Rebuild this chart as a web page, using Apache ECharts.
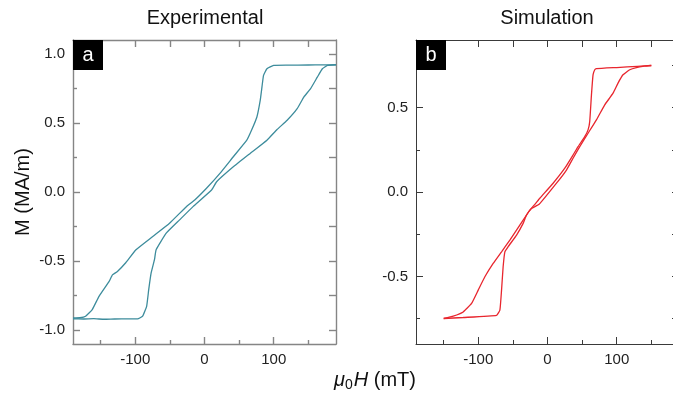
<!DOCTYPE html>
<html>
<head>
<meta charset="utf-8">
<script src="https://cdn.jsdelivr.net/npm/echarts@6/dist/echarts.min.js"></script>
<style>html,body{margin:0;padding:0;background:#fff;}#chart{width:673px;height:397px;}</style>
</head>
<body>
<div id="chart"></div>
<script>
// ---- Data ----
const panelTitles = ['Experimental', 'Simulation'];
const panelTags = ['a', 'b'];
const yAxisTitle = 'M (MA/m)';

const xMajorTicks = [-100, 0, 100];
const xMinorTicks = [-150, -50, 50, 150];
const expYMajorTicks = [-1.0, -0.5, 0.0, 0.5, 1.0];
const expYMinorTicks = [-0.75, -0.25, 0.25, 0.75];
const simYMajorTicks = [-0.5, 0.0, 0.5];
const simYMinorTicks = [-0.75, -0.25, 0.25, 0.75];

// Experimental loop, descending branch (field from +190 to -190 mT)
const expDescH = [190, 170, 150, 120, 99.9, 90.2, 85.3, 83, 80.5, 75.7, 68.4, 61.1, 41.6, 22.3, 2.9, -14.1, -26.2, -50.5, -74.8, -99, -113.5, -125.8, -133, -137.8, -152.4, -162.2, -171.8, -180, -190];
const expDescM = [0.921, 0.920, 0.919, 0.918, 0.916, 0.892, 0.844, 0.759, 0.663, 0.543, 0.452, 0.375, 0.255, 0.135, 0.027, -0.058, -0.106, -0.226, -0.322, -0.418, -0.51, -0.575, -0.6, -0.647, -0.755, -0.851, -0.899, -0.91, -0.912];
// Experimental loop, ascending branch (field from -190 to +190 mT)
const expAscH = [-190, -175, -160, -145, -130, -110, -96.7, -89.4, -83.6, -80.6, -77.1, -72.3, -69.9, -55.3, -36, -16.6, 10.2, 17.5, 41.6, 65.9, 90.2, 104.8, 119.4, 133.9, 143.5, 153.3, 163, 170.3, 177.6, 190];
const expAscM = [-0.918, -0.919, -0.917, -0.921, -0.919, -0.918, -0.918, -0.899, -0.827, -0.707, -0.586, -0.49, -0.418, -0.298, -0.202, -0.106, 0.014, 0.074, 0.182, 0.279, 0.375, 0.452, 0.519, 0.603, 0.687, 0.748, 0.831, 0.892, 0.916, 0.921];

// Simulation loop, descending branch
const simDescH = [150, 130, 100, 70.7, 68.3, 65.8, 63.5, 61, 58.6, 53.8, 44.2, 36.9, 25, 8.1, -11.1, -18.3, -25.5, -40, -54.4, -66.4, -78.5, -90.5, -100.1, -109.7, -121.8, -136.2, -150];
const simDescM = [0.749, 0.744, 0.737, 0.730, 0.724, 0.694, 0.575, 0.417, 0.368, 0.328, 0.269, 0.219, 0.141, 0.052, -0.037, -0.073, -0.107, -0.196, -0.285, -0.354, -0.423, -0.502, -0.581, -0.66, -0.71, -0.735, -0.749];
// Simulation loop, ascending branch
const simAscH = [-150, -121.8, -73.6, -68.8, -66.4, -64.1, -61.6, -56.9, -44.7, -35.2, -30.3, -23.1, -12.1, 13, 27.4, 36.9, 46.6, 58.6, 70.7, 82.7, 94.7, 101.9, 109.1, 118.8, 128.4, 140, 150];
const simAscM = [-0.749, -0.743, -0.730, -0.70, -0.581, -0.443, -0.354, -0.324, -0.255, -0.186, -0.136, -0.097, -0.073, 0.052, 0.13, 0.2, 0.269, 0.348, 0.427, 0.516, 0.585, 0.645, 0.694, 0.724, 0.737, 0.745, 0.749];

// ---- Build chart ----
const FONT = 'Liberation Sans, Arial, Helvetica, sans-serif';
const zip = (a, b) => a.map((v, i) => [v, b[i]]);

const panels = [
  { left: 73, yMin: -1.1, yMax: 1.1, yMaj: expYMajorTicks, yMin2: expYMinorTicks, axisColor: '#858585', axisWidth: 1.4, color: '#3d8c9c',
    branches: [zip(expDescH, expDescM), zip(expAscH, expAscM)] },
  { left: 416, yMin: -0.9, yMax: 0.9, yMaj: simYMajorTicks, yMin2: simYMinorTicks, axisColor: '#3a3a3a', axisWidth: 1, color: '#e8262e',
    branches: [zip(simDescH, simDescM), zip(simAscH, simAscM)] }
];

const grids = [], xAxes = [], yAxes = [], series = [];
panels.forEach((p, gi) => {
  grids.push({ left: p.left, top: 40, width: 263, height: 304, containLabel: false, outerBoundsMode: 'none' });
  const ls = { color: p.axisColor, width: p.axisWidth };
  const base = { gridIndex: gi, type: 'value', splitLine: { show: false } };
  const mk = (extra) => Object.assign({}, base, extra);
  const lineOn = { show: true, onZero: false, lineStyle: ls };
  const lineOff = { show: false, onZero: false, lineStyle: ls };
  // x axes
  xAxes.push(mk({ min: -190, max: 190, position: 'bottom', axisLine: lineOn,
    axisTick: { show: true, inside: true, length: 7, customValues: xMajorTicks, lineStyle: ls },
    axisLabel: { show: true, customValues: xMajorTicks, color: '#222', fontSize: 15, fontFamily: FONT, margin: 8,
      formatter: v => String(Math.round(v)) } }));
  xAxes.push(mk({ min: -190, max: 190, position: 'bottom', axisLine: lineOff,
    axisTick: { show: true, inside: true, length: 4, customValues: xMinorTicks, lineStyle: ls },
    axisLabel: { show: false } }));
  xAxes.push(mk({ min: -190, max: 190, position: 'top', axisLine: lineOn,
    axisTick: { show: true, inside: true, length: 7, customValues: xMajorTicks.concat(xMinorTicks), lineStyle: ls },
    axisLabel: { show: false } }));
  // y axes
  yAxes.push(mk({ min: p.yMin, max: p.yMax, position: 'left', axisLine: lineOn,
    axisTick: { show: true, inside: true, length: 7, customValues: p.yMaj, lineStyle: ls },
    axisLabel: { show: true, customValues: p.yMaj, color: '#222', fontSize: 15, fontFamily: FONT, margin: 8,
      formatter: v => v.toFixed(1) } }));
  yAxes.push(mk({ min: p.yMin, max: p.yMax, position: 'left', axisLine: lineOff,
    axisTick: { show: true, inside: true, length: 4, customValues: p.yMin2, lineStyle: ls },
    axisLabel: { show: false } }));
  yAxes.push(mk({ min: p.yMin, max: p.yMax, position: 'right', axisLine: lineOn,
    axisTick: { show: true, inside: true, length: 7, customValues: p.yMaj.concat(p.yMin2), lineStyle: ls },
    axisLabel: { show: false } }));
  p.branches.forEach(data => {
    series.push({ type: 'line', xAxisIndex: gi * 3, yAxisIndex: gi * 3, data: data,
      showSymbol: false, symbol: 'none', smooth: 0.12, animation: false,
      lineStyle: { color: p.color, width: 1.3 }, silent: true });
  });
});

const titleCenters = [205, 547];
const graphic = [];
panelTitles.forEach((t, i) => {
  graphic.push({ type: 'text', x: titleCenters[i], y: 18, z: 100,
    style: { text: t, fill: '#111', font: '20px ' + FONT, textAlign: 'center', textVerticalAlign: 'middle' } });
});
panelTags.forEach((t, i) => {
  const gx = panels[i].left;
  graphic.push({ type: 'rect', x: gx, y: 40, z: 100, shape: { width: 30, height: 30 }, style: { fill: '#000' } });
  graphic.push({ type: 'text', x: gx + 15, y: 55, z: 101,
    style: { text: t, fill: '#fff', font: '20px ' + FONT, textAlign: 'center', textVerticalAlign: 'middle' } });
});
graphic.push({ type: 'text', x: 23, y: 192, rotation: Math.PI / 2, z: 100,
  style: { text: yAxisTitle, fill: '#111', font: '20px ' + FONT, textAlign: 'center', textVerticalAlign: 'middle' } });
graphic.push({ type: 'text', x: 375, y: 380, z: 100,
  style: { text: '{i|μ}{s|0}{i|H} (mT)', fill: '#111', font: '20px ' + FONT, textAlign: 'center', textVerticalAlign: 'middle',
    rich: {
      i: { fontStyle: 'italic', fontSize: 20, fontFamily: FONT, fill: '#111', lineHeight: 24, verticalAlign: 'middle' },
      s: { fontSize: 14, fontFamily: FONT, fill: '#111', lineHeight: 24, verticalAlign: 'bottom', padding: [0, 1, 0, 0] }
    } } });

const chart = echarts.init(document.getElementById('chart'), null, { renderer: 'canvas', width: 673, height: 397 });
chart.setOption({
  animation: false,
  backgroundColor: '#fff',
  textStyle: { fontFamily: FONT },
  grid: grids,
  xAxis: xAxes,
  yAxis: yAxes,
  series: series,
  graphic: graphic
});
</script>
</body>
</html>
